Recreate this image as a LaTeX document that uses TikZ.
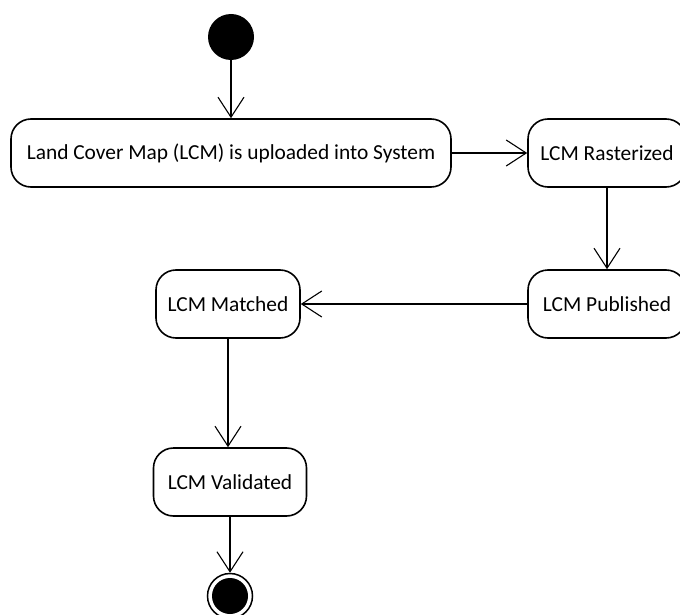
\documentclass[tikz,border=0pt]{standalone}
\usepackage{fontspec}
\setmainfont{Carlito}
\usetikzlibrary{arrows.meta}
\begin{document}
\begin{tikzpicture}[x=1pt,y=-1pt,
  state/.style={draw, line width=1.6pt, rounded corners=20pt, minimum height=68pt,
    inner sep=0pt, font=\fontsize{21.4}{24}\selectfont, fill=white},
  flow/.style={line width=1.1pt, -{Straight Barb[length=20pt,width=26pt,line width=1.1pt]}}]
\useasboundingbox (0,0) rectangle (680,615);
\fill[white] (0,0) rectangle (680,615);
% start and end markers
\node[circle, fill=black, minimum size=46pt, inner sep=0pt] (start) at (231,37) {};
\node[circle, draw=black, line width=1.5pt, fill=white, minimum size=45pt, inner sep=0pt] (stop) at (230,596) {};
\fill[black] (stop.center) circle (18pt);
% activity states
\node[state, minimum width=440pt] (upload) at (231,153) {Land Cover Map (LCM) is uploaded into System};
\node[state, minimum width=158pt] (raster) at (607,153) {LCM Rasterized};
\node[state, minimum width=158pt] (publish) at (607,304) {LCM Published};
\node[state, minimum width=144pt] (match) at (228,304) {LCM Matched};
\node[state, minimum width=153pt] (valid) at (230,482) {LCM Validated};
% transitions
\draw[flow] (start) -- (upload);
\draw[flow] (upload) -- (raster);
\draw[flow] (raster) -- (publish);
\draw[flow] (publish) -- (match);
\draw[flow] (match.south) -- (match.south |- valid.north);
\draw[flow] (valid) -- (stop);
\end{tikzpicture}
\end{document}
